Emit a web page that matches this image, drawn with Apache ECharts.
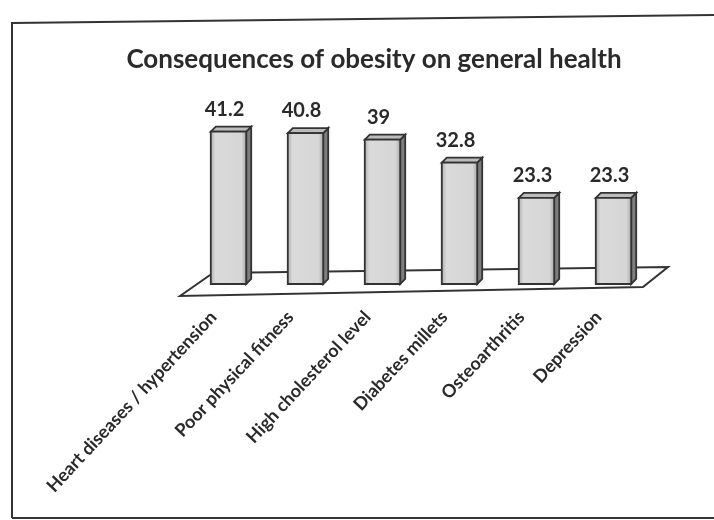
<!DOCTYPE html>
<html>
<head>
<meta charset="utf-8">
<script src="https://cdn.jsdelivr.net/npm/echarts@6/dist/echarts.min.js"></script>
<style>
  html, body { margin: 0; padding: 0; background: #fff; }
  #chart { width: 714px; height: 520px; }
</style>
</head>
<body>
<div id="chart"></div>
<script>
var categories = ['Heart diseases / hypertension', 'Poor physical fitness', 'High cholesterol level',
	'Diabetes millets', 'Osteoarthritis', 'Depression'];
var values = [41.2, 40.8, 39, 32.8, 23.3, 23.3];

var myChart = echarts.init(document.getElementById('chart'));
var depth = 5;

myChart.setOption({
	animation: false,
	title: {
		text: 'Consequences of obesity on general health',
		left: 369,
		textAlign: 'center',
		top: 42,
		textStyle: {
			fontFamily: 'Lato',
			fontSize: 26,
			fontWeight: 'bold',
			color: '#2a2a2a'
		}
	},
	grid: {
		left: 190,
		right: 62,
		top: 99,
		bottom: 236
	},
	xAxis: {
		type: 'category',
		data: categories,
		axisLine: { show: false },
		axisTick: { show: false },
		axisLabel: {
			interval: 0,
			rotate: 47,
			margin: 14,
			padding: [0, 22, 0, 0],
			fontFamily: 'Lato',
			fontSize: 18,
			fontWeight: 'bold',
			color: '#2a2a2a'
		}
	},
	yAxis: {
		type: 'value',
		min: 0,
		max: 50,
		show: false,
		splitLine: { show: false }
	},
	graphic: [{
		// frame
		type: 'polyline',
		z: 0,
		shape: { points: [[12, 518], [12, 23], [714, 15]] },
		style: { stroke: '#333', lineWidth: 2, fill: null }
	}, {
		type: 'line',
		z: 0,
		shape: { x1: 12, y1: 518, x2: 714, y2: 518 },
		style: { stroke: '#333', lineWidth: 2 }
	}, {
		// floor
		type: 'polygon',
		z: 0,
		shape: { points: [[180, 296], [213, 273], [668, 267], [643, 287]] },
		style: { fill: '#fff', stroke: '#333', lineWidth: 2 }
	}],
	series: [{
		type: 'custom',
		data: values.map(function (v, i) { return [i, v]; }),
		renderItem: function (params, api) {
			var top = api.coord([api.value(0), api.value(1)]);
			var base = api.coord([api.value(0), 0]);
			var w = api.size([1, 0])[0] * 0.46;
			var x0 = top[0] - w / 2, x1 = top[0] + w / 2;
			var edge = { stroke: '#333', lineWidth: 1.8 };
			return {
				type: 'group',
				children: [{
					type: 'polygon',
					shape: { points: [[x1, top[1]], [x1 + depth, top[1] - depth], [x1 + depth, base[1] - depth], [x1, base[1]]] },
					style: { fill: '#7e7e7e', stroke: edge.stroke, lineWidth: edge.lineWidth }
				}, {
					type: 'polygon',
					shape: { points: [[x0, top[1]], [x0 + depth, top[1] - depth], [x1 + depth, top[1] - depth], [x1, top[1]]] },
					style: { fill: '#bcbcbc', stroke: edge.stroke, lineWidth: edge.lineWidth }
				}, {
					type: 'rect',
					shape: { x: x0, y: top[1], width: w, height: base[1] - top[1] },
					style: {
						fill: new echarts.graphic.LinearGradient(0, 0, 1, 0, [
							{ offset: 0, color: '#a8a8a8' },
							{ offset: 0.15, color: '#dadada' },
							{ offset: 0.85, color: '#d6d6d6' },
							{ offset: 1, color: '#a0a0a0' }
						]),
						stroke: edge.stroke,
						lineWidth: edge.lineWidth
					}
				}, {
					type: 'text',
					x: top[0] - 4,
					y: top[1] - 12,
					style: {
						text: String(api.value(1)),
						align: 'center',
						verticalAlign: 'bottom',
						fontFamily: 'Lato',
						fontSize: 20,
						fontWeight: 'bold',
						fill: '#2a2a2a'
					}
				}]
			};
		}
	}]
});
</script>
</body>
</html>
